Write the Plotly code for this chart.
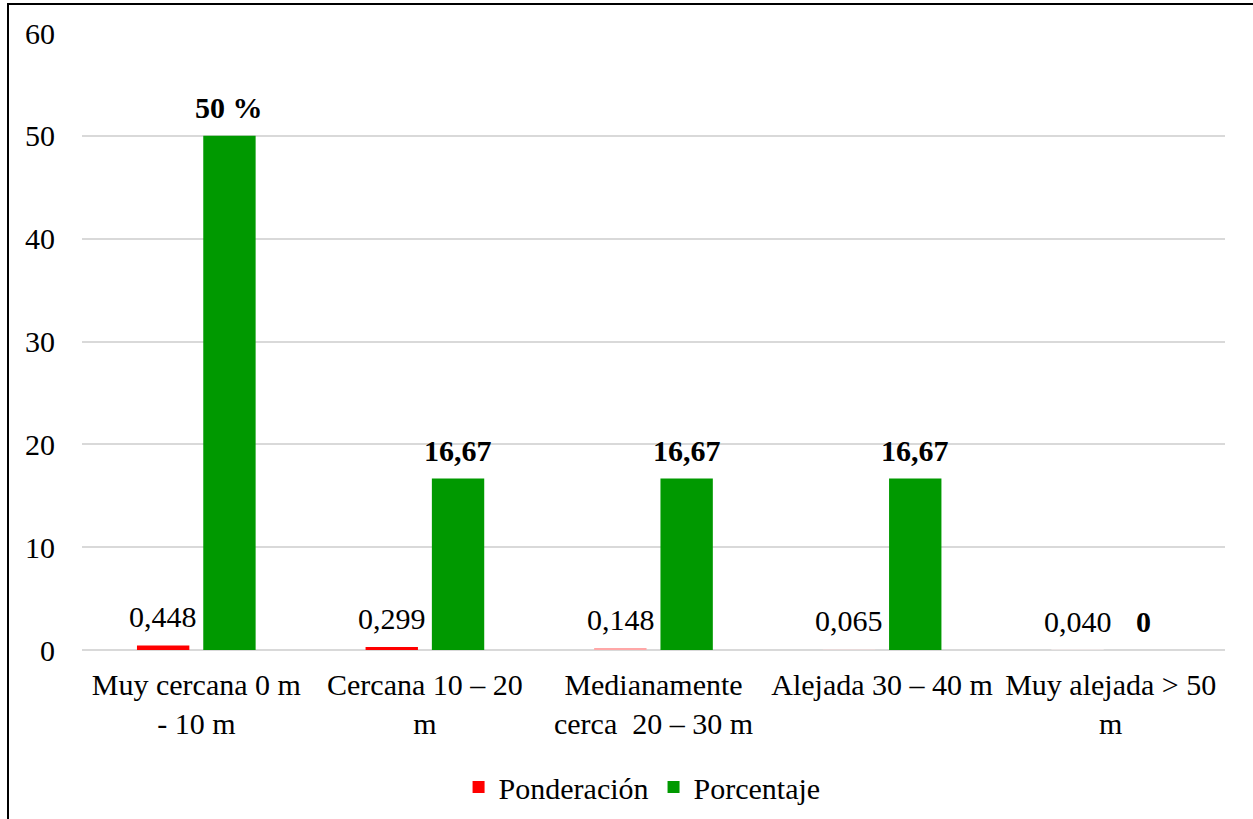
import plotly.graph_objects as go

categories = ["Muy cercana 0 m<br>- 10 m", "Cercana 10 – 20<br>m", "Medianamente<br>cerca  20 – 30 m",
              "Alejada 30 – 40 m", "Muy alejada > 50<br>m"]
ponderacion = [0.448, 0.299, 0.148, 0.065, 0.040]
ponderacion_labels = ["0,448", "0,299", "0,148", "0,065", "0,040"]
ponderacion_colors = ["#FF0000", "#FF0000", "#FFA7A7", "#E8D9D9", "#ECE6E6"]
porcentaje = [50, 16.67, 16.67, 16.67, 0]
porcentaje_labels = ["<b>50 %</b>", "<b>16,67</b>", "<b>16,67</b>", "<b>16,67</b>", "<b>0</b>"]

FONT = "Liberation Serif, Times New Roman, serif"
FS = 30

fig = go.Figure()
fig.add_trace(go.Bar(
    name="Ponderación", x=categories, y=ponderacion,
    marker=dict(color=ponderacion_colors, line=dict(width=0)),
))
fig.add_trace(go.Bar(
    name="Porcentaje", x=categories, y=porcentaje,
    marker=dict(color="#009900", line=dict(width=0)),
))

for cat, val, lab in zip(categories, ponderacion, ponderacion_labels):
    fig.add_annotation(x=cat, y=val, text=lab, showarrow=False, xanchor="center", yanchor="bottom",
                       xshift=-33, yshift=10, font=dict(family=FONT, size=FS, color="black"))
for cat, val, lab in zip(categories, porcentaje, porcentaje_labels):
    fig.add_annotation(x=cat, y=val, text=lab, showarrow=False, xanchor="center", yanchor="bottom",
                       xshift=33, yshift=10, font=dict(family=FONT, size=FS, color="black"))

fig.update_layout(
    width=1253, height=819,
    margin=dict(l=82, r=28, t=33, b=169, autoexpand=False),
    paper_bgcolor="white", plot_bgcolor="white",
    barmode="group", bargap=0.42, bargroupgap=0.21,
    font=dict(family=FONT, size=FS, color="black"),
    showlegend=True,
    legend=dict(orientation="h", x=0.49, xanchor="center", y=-0.222, yanchor="middle",
                font=dict(family=FONT, size=FS, color="black"), itemwidth=30,
                traceorder="normal"),
)
fig.update_yaxes(range=[0, 60], dtick=10, showgrid=True, gridcolor="#D9D9D9", gridwidth=1.5,
                 zeroline=True, zerolinecolor="#D9D9D9", zerolinewidth=1.5,
                 showline=False, ticks="", ticklabelstandoff=26, automargin=False,
                 tickfont=dict(family=FONT, size=FS, color="black"))
fig.update_xaxes(showline=False, ticks="", ticklabelstandoff=14, automargin=False,
                 tickfont=dict(family=FONT, size=FS, color="black"))

fig.add_shape(type="rect", xref="paper", yref="paper",
              x0=(8 - 82) / 1143, x1=1.05, y0=-0.28, y1=(650 - 4) / 617,
              line=dict(color="black", width=2), fillcolor="rgba(0,0,0,0)", layer="above")

fig.write_html("out.html")
